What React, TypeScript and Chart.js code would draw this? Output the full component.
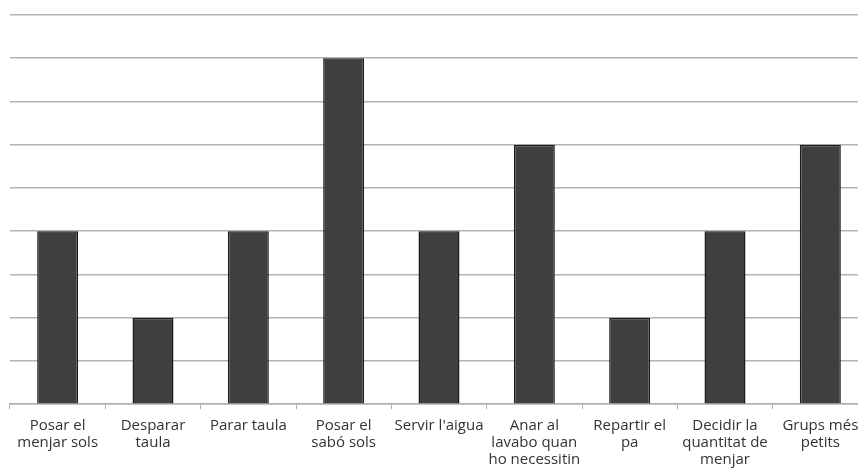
import React, { useEffect, useRef } from "react";
import { Chart, registerables } from "chart.js";

Chart.register(...registerables);

const categories: string[][] = [
  ["Posar el", "menjar sols"],
  ["Desparar", "taula"],
  ["Parar taula"],
  ["Posar el", "sabó sols"],
  ["Servir l'aigua"],
  ["Anar al", "lavabo quan", "ho necessitin"],
  ["Repartir el", "pa"],
  ["Decidir la", "quantitat de", "menjar"],
  ["Grups més", "petits"],
];
const values: number[] = [4, 2, 4, 8, 4, 6, 2, 4, 6];
const yMax = 9;

export default function App() {
  const ref = useRef<HTMLCanvasElement>(null);
  useEffect(() => {
    if (!ref.current) return;
    const chart = new Chart(ref.current, {
      type: "bar",
      data: {
        labels: categories,
        datasets: [
          {
            data: values,
            backgroundColor: "#3f3f3f",
            borderColor: "#1c1c1c",
            borderWidth: 1.5,
            categoryPercentage: 1,
            barPercentage: 0.43,
          },
        ],
      },
      options: {
        responsive: false,
        animation: false,
        layout: { padding: { left: 10, right: 2, top: 15, bottom: 4 } },
        plugins: { legend: { display: false }, tooltip: { enabled: false } },
        scales: {
          x: {
            grid: {
              drawOnChartArea: false,
              drawTicks: true,
              tickLength: 5,
              color: "#b0b0b0",
            },
            border: { color: "#b0b0b0", width: 1.5 },
            ticks: {
              color: "#333333",
              maxRotation: 0,
              autoSkip: false,
              padding: 8,
              font: { family: "Open Sans", size: 15, lineHeight: 1.13 },
            },
          },
          y: {
            min: 0,
            max: yMax,
            grid: { color: "#b3b3b3", lineWidth: 1.5, drawTicks: false },
            border: { display: false },
            ticks: { display: false, stepSize: 1 },
          },
        },
      },
    });
    return () => chart.destroy();
  }, []);
  return (
    <div
      style={{
        position: "fixed",
        left: 0,
        top: 0,
        width: 858,
        height: 468,
        overflow: "hidden",
        background: "#ffffff",
      }}
    >
      <canvas ref={ref} width={870} height={480} style={{ display: "block" }} />
    </div>
  );
}
